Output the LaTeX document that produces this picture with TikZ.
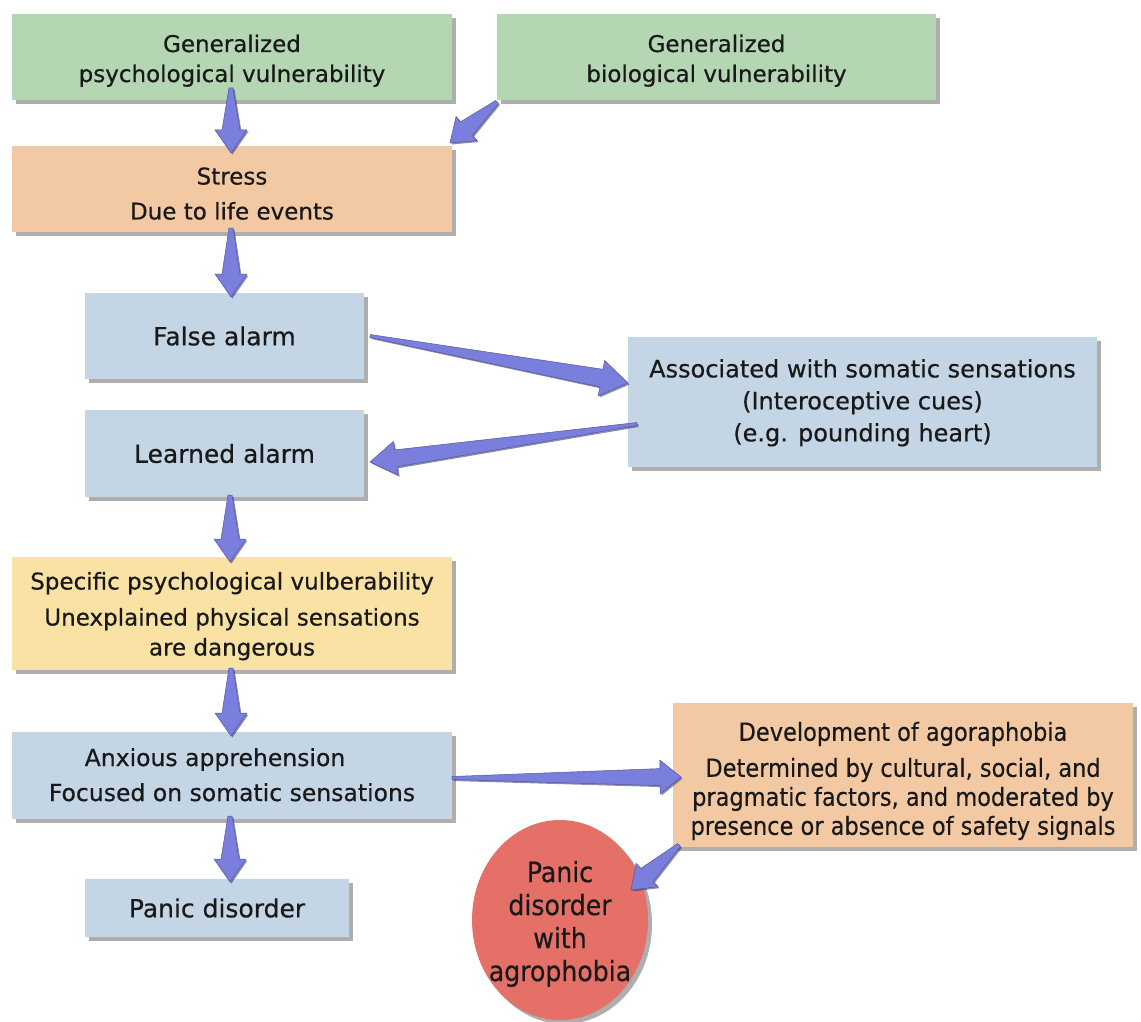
\documentclass[tikz,border=0pt]{standalone}
\usepackage{fontspec}
\setmainfont{DejaVu Sans}[FakeBold=0.5]
\newfontfamily\condfont{DejaVu Sans Condensed}[FakeBold=0.4]
\usetikzlibrary{calc,shapes.geometric,shadows}
\definecolor{gbox}{RGB}{181,214,178}
\definecolor{obox}{RGB}{242,201,162}
\definecolor{bbox}{RGB}{196,214,230}
\definecolor{ybox}{RGB}{250,226,164}
\definecolor{rcirc}{RGB}{229,112,104}
\definecolor{arrfill}{RGB}{122,126,220}
\definecolor{arredge}{RGB}{60,62,120}
\definecolor{txt}{RGB}{25,25,25}
\newcommand\bt[2]{\raisebox{-#1}[\height][\depth]{\begin{tabular}{@{}c@{}}#2\end{tabular}}}
\tikzset{
  boxstyle/.style={rectangle, inner sep=0pt, text=txt, align=center,
    drop shadow={opacity=0.45, shadow xshift=4pt, shadow yshift=-4pt, fill=black!70}},
  fs23/.style={font=\fontsize{23}{30}\selectfont},
  fs24/.style={font=\fontsize{24}{32}\selectfont},
  fs25/.style={font=\fontsize{25}{31}\selectfont},
}
\newcommand\fatarr[6]{%
  \coordinate (fatN) at ($(#2)!#6!(#1)$);
  \fill[arrfill, draw=arrfill!70!black, line width=0.5pt,
        drop shadow={opacity=0.6, shadow xshift=1.5pt, shadow yshift=-1.5pt, fill=arredge}]
    ($(#1)!#3!90:(#2)$) -- ($(fatN)!#4!90:(#2)$) -- ($(fatN)!#5!90:(#2)$) -- (#2)
    -- ($(fatN)!#5!-90:(#2)$) -- ($(fatN)!#4!-90:(#2)$) -- ($(#1)!#3!-90:(#2)$) -- cycle;
}
\begin{document}
\begin{tikzpicture}[x=1pt,y=-1pt]
\useasboundingbox (0,0) rectangle (1141,1022);
% boxes
\node[boxstyle, fill=gbox, minimum width=440pt, minimum height=86pt, fs23] (psych) at (232,57)
  {\bt{4pt}{Generalized\\psychological vulnerability}};
\node[boxstyle, fill=gbox, minimum width=439pt, minimum height=86pt, fs23] (bio) at (716.5,57)
  {\bt{4pt}{Generalized\\biological vulnerability}};
\node[boxstyle, fill=obox, minimum width=440pt, minimum height=86pt, fs23] (stress) at (232,189)
  {\bt{7pt}{Stress\\[5pt]Due to life events}};
\node[boxstyle, fill=bbox, minimum width=279pt, minimum height=86pt, fs25] (false) at (224.5,336)
  {False alarm};
\node[boxstyle, fill=bbox, minimum width=469pt, minimum height=130pt, fs24] (assoc) at (862.5,402)
  {\bt{1pt}{Associated with somatic sensations\\(Interoceptive cues)\\(e.g. pounding heart)}};
\node[boxstyle, fill=bbox, minimum width=279pt, minimum height=87pt, fs25] (learned) at (224.5,453.5)
  {Learned alarm};
\node[boxstyle, fill=ybox, minimum width=440pt, minimum height=113pt, fs23] (specific) at (232,613.5)
  {\bt{3pt}{Specific psychological vulberability\\[6pt]Unexplained physical sensations\\are dangerous}};
\node[boxstyle, fill=bbox, minimum width=440pt, minimum height=87pt, font=\fontsize{23.5}{30}\selectfont] (anxious) at (232,775.5)
  {\bt{2pt}{Anxious apprehension\hspace*{34pt}\\[5pt]Focused on somatic sensations}};
\node[boxstyle, fill=obox, minimum width=460pt, minimum height=144pt,
      font=\condfont\fontsize{25}{29}\selectfont] (develop) at (903,775)
  {\bt{7pt}{Development of agoraphobia\\[7pt]Determined by cultural, social, and\\pragmatic factors, and moderated by\\presence or absence of safety signals}};
\node[ellipse, fill=rcirc, minimum width=176pt, minimum height=200pt, inner sep=0pt, text=txt, align=center,
      drop shadow={opacity=0.45, shadow xshift=4pt, shadow yshift=-4pt, fill=black!70},
      font=\condfont\fontsize{28}{33}\selectfont] (pda) at (560,920)
  {\makebox[90pt]{\bt{5pt}{Panic\\disorder\\with\\agrophobia}}};
\node[boxstyle, fill=bbox, minimum width=264pt, minimum height=58pt, fs25] (panic) at (217,908)
  {Panic disorder};
% arrow end points
\coordinate (a1t) at (231,88);  \coordinate (a1h) at (231,153);
\coordinate (a2t) at (497,102); \coordinate (a2h) at (450,143);
\coordinate (a3t) at (231,228); \coordinate (a3h) at (231,297);
\coordinate (a4t) at (370,336); \coordinate (a4h) at (628,383);
\coordinate (a5t) at (637,424); \coordinate (a5h) at (370,462);
\coordinate (a6t) at (230,495); \coordinate (a6h) at (230,562);
\coordinate (a7t) at (231,668); \coordinate (a7h) at (231,736);
\coordinate (a8t) at (230,816); \coordinate (a8h) at (230,882);
\coordinate (a9t) at (452,778); \coordinate (a9h) at (681,777);
\coordinate (a10t) at (679,845); \coordinate (a10h) at (631,890);
% arrows
\fatarr{a1t}{a1h}{2pt}{9pt}{16pt}{23pt}
\fatarr{a2t}{a2h}{2pt}{9pt}{16pt}{22pt}
\fatarr{a3t}{a3h}{2pt}{9pt}{16pt}{23pt}
\fatarr{a4t}{a4h}{1.5pt}{9pt}{18pt}{27pt}
\fatarr{a5t}{a5h}{1.5pt}{8.5pt}{17pt}{26pt}
\fatarr{a6t}{a6h}{2pt}{9pt}{16pt}{23pt}
\fatarr{a7t}{a7h}{2pt}{9pt}{16pt}{23pt}
\fatarr{a8t}{a8h}{2pt}{9pt}{16pt}{23pt}
\fatarr{a9t}{a9h}{1.5pt}{8.5pt}{17pt}{21pt}
\fatarr{a10t}{a10h}{2pt}{9pt}{16pt}{22pt}
\end{tikzpicture}
\end{document}
